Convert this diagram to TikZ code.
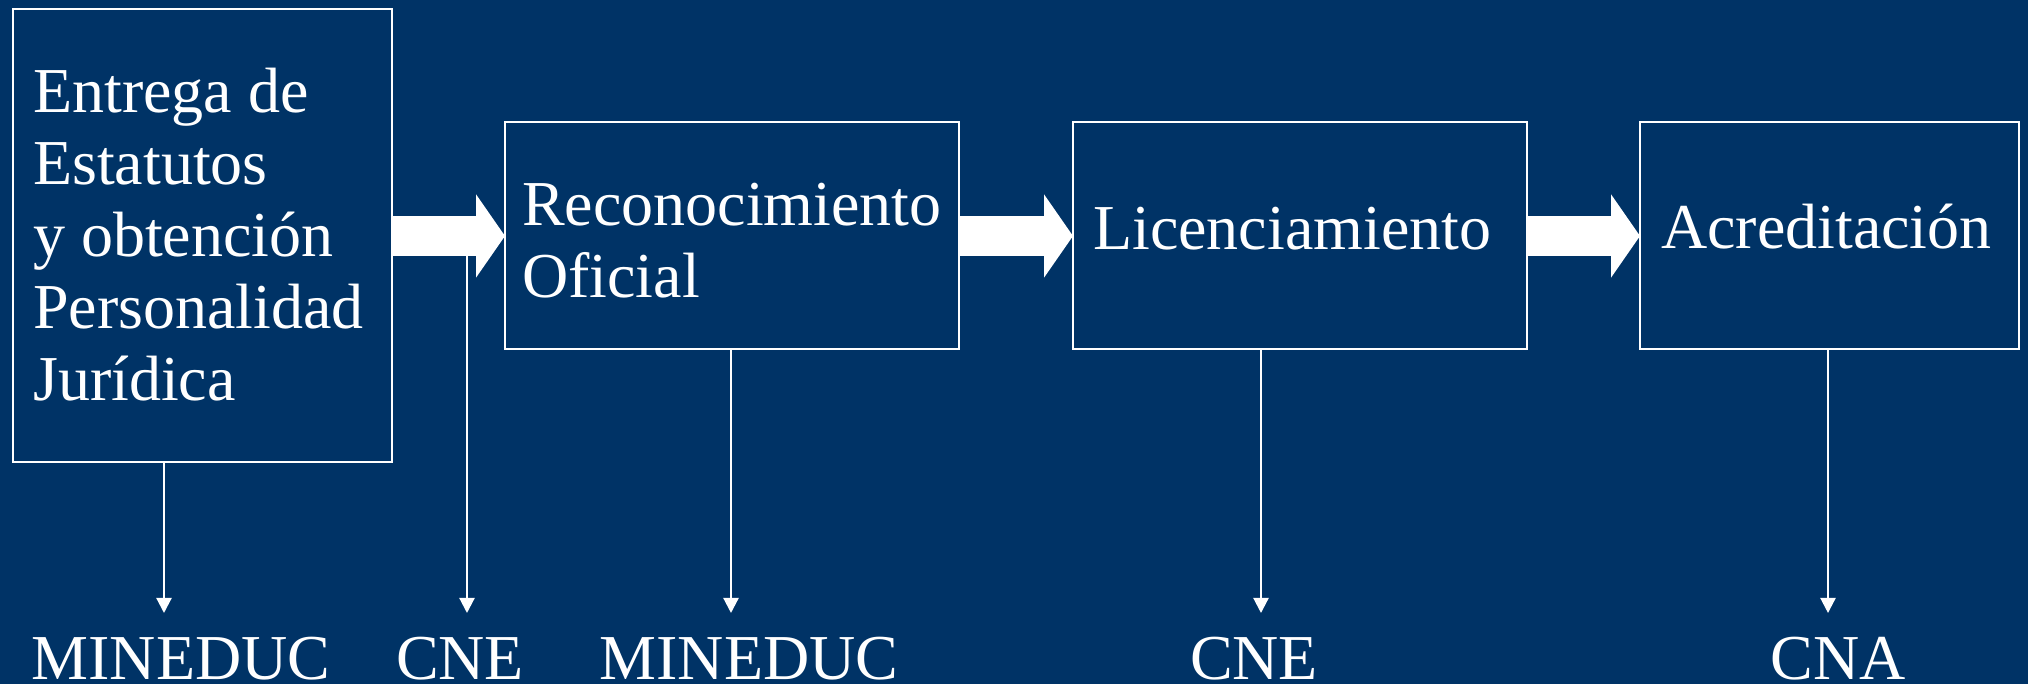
\documentclass[tikz,border=0pt]{standalone}
\usepackage{fontspec}
\setmainfont{Liberation Serif}
\usepackage{tikz}
\usetikzlibrary{arrows.meta,positioning}
\definecolor{fondo}{RGB}{0,51,102}

\begin{document}
\begin{tikzpicture}[x=1pt, y=1pt, node distance=113pt,
    every node/.style={font=\fontsize{64}{72}\selectfont, text=white},
    etapa/.style={draw=white, line width=2pt, minimum width=454pt, minimum height=227pt, inner sep=0pt, outer sep=0pt},
    texto/.style={anchor=base west, align=left, inner sep=0pt},
    rotulo/.style={anchor=base, inner sep=0pt},
    gruesa/.style={white, line width=40pt, -{Triangle[length=29pt, width=82pt]}},
    fina/.style={white, line width=2.2pt, -{Triangle[length=15pt, width=15pt]}}]
			\fill[fondo] (0,0) rectangle (2028,684);
			\useasboundingbox (0,0) rectangle (2028,684);
			
			% etapas del proceso
			\node[etapa, minimum width=379pt, minimum height=453pt] (s1) at (202.5,448) {};
			\node[etapa, right=of s1] (s2) {};
			\node[etapa, right=114pt of s2] (s3) {};
			\node[etapa, minimum width=379pt, right=of s3] (s4) {};
			
			\node[texto, xshift=20pt, yshift=-391pt] (t1) at (s1.north west) {Entrega de\\Estatutos\\y obtención\\Personalidad\\Jurídica};
			\node[texto, xshift=17pt, yshift=-175pt] (t2) at (s2.north west) {Reconocimiento\\Oficial};
			\node[texto, xshift=20pt, yshift=-127pt] (t3) at (s3.north west) {Licenciamiento};
			\node[texto, xshift=21pt, yshift=-126pt] (t4) at (s4.north west) {Acreditación};
			
			\draw[gruesa] (s1) -- (s2);
			\draw[gruesa] (s2) -- (s3);
			\draw[gruesa] (s3) -- (s4);
			
			% organismos
			\node[rotulo] (r1) at (181,4) {MINEDUC};
			\node[rotulo] (r2) at (460,4) {CNE};
			\node[rotulo] (r3) at (749,4) {MINEDUC};
			\node[rotulo] (r4) at (1254,4) {CNE};
			\node[rotulo] (r5) at (1838,4) {CNA};
			
			\coordinate (pie) at (467,429);
			\coordinate (e1) at (164,71);
			\coordinate (e2) at (467,71);
			\coordinate (e3) at (731,71);
			\coordinate (e4) at (1261,71);
			\coordinate (e5) at (1828,71);
			
			\draw[fina] (s1.south -| e1) -- (e1);
			\draw[fina] (pie) -- (e2);
			\draw[fina] (s2.south -| e3) -- (e3);
			\draw[fina] (s3.south -| e4) -- (e4);
			\draw[fina] (s4.south -| e5) -- (e5);
		\end{tikzpicture}
\end{document}
